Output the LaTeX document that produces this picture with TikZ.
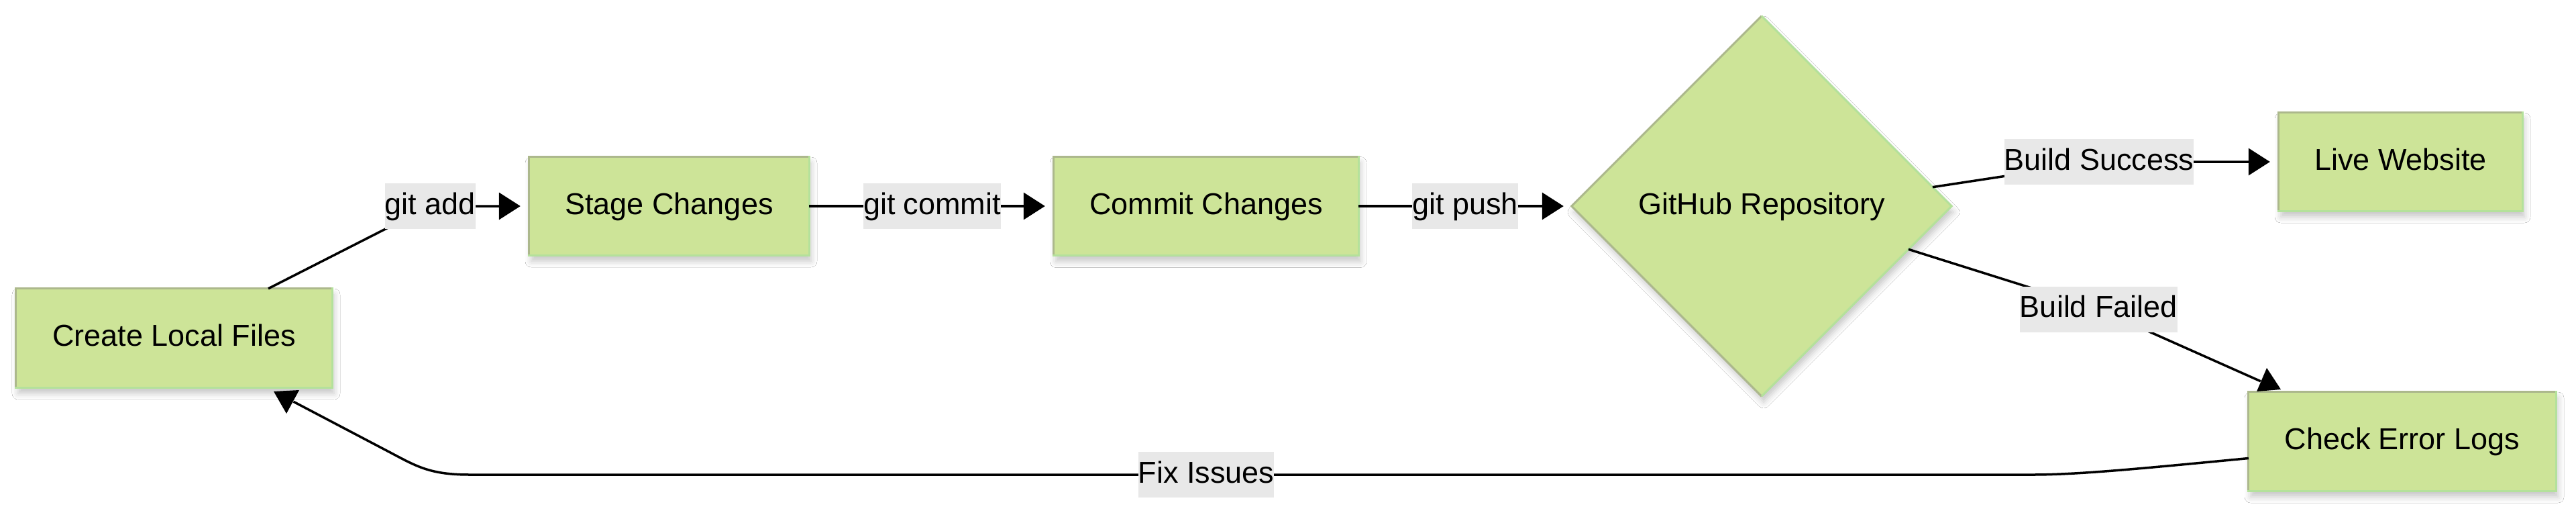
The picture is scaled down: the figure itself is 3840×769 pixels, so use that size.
\documentclass[tikz,border=0pt]{standalone}
\usepackage{fontspec}
\setmainfont{Liberation Sans}
\usetikzlibrary{shapes.geometric,shadows.blur,calc,arrows.meta}
\definecolor{nodefill}{HTML}{CDE498}
\definecolor{edgegray}{HTML}{ACB88C}
\definecolor{edgegreen}{HTML}{B4E19B}
\definecolor{labelbg}{HTML}{E8E8E8}
\newcommand\bordbox[1]{%
  \draw[edgegray, line width=3pt, line cap=rect] (#1.south west) -- (#1.north west) -- (#1.north east);
  \draw[edgegreen, line width=3pt, line cap=rect] (#1.north east) -- (#1.south east) -- (#1.south west);}
\newcommand\borddiam[1]{%
  \draw[edgegray, line width=3pt] (#1.south) -- (#1.west) -- (#1.north);
  \draw[edgegreen, line width=3pt] (#1.north) -- (#1.east) -- (#1.south);}
\begin{document}
\begin{tikzpicture}[x=1pt,y=-1pt,
  font=\fontsize{45}{54}\selectfont,
  box/.style={rectangle, fill=nodefill, minimum height=147pt, inner sep=0pt,
    text height=34pt, text depth=10pt,
    blur shadow={shadow xshift=3pt, shadow yshift=-9pt, shadow blur radius=9pt, shadow opacity=22}},
  diam/.style={diamond, aspect=1, fill=nodefill, minimum width=566pt, minimum height=566pt,
    inner sep=0pt, text height=34pt, text depth=10pt,
    blur shadow={shadow xshift=3pt, shadow yshift=-9pt, shadow blur radius=9pt, shadow opacity=22}},
  lbl/.style={fill=labelbg, inner xsep=0pt, inner ysep=0pt, minimum height=68pt,
    text height=34pt, text depth=10pt},
  edge/.style={draw=black, line width=3.5pt},
  arr/.style={-{Triangle[length=32pt,width=40pt]}}
]
\fill[white] (0,0) rectangle (3840,769);
\useasboundingbox (0,0) rectangle (3840,769);

% nodes
\node[box, minimum width=471pt, minimum height=147pt] (cl) at (259.5,503.5) {Create Local Files};
\node[box, minimum width=417pt, minimum height=146pt] (sc) at (997.5,307) {Stage Changes};
\node[box, minimum width=454pt, minimum height=147pt] (cc) at (1798,307) {Commit Changes};
\node[diam] (gh) at (2626,307) {GitHub Repository};
\node[box, minimum width=363pt, minimum height=146pt] (lw) at (3578.5,241) {Live Website};
\node[box, minimum width=458pt, minimum height=147pt] (ce) at (3581,657.5) {Check Error Logs};
\bordbox{cl}
\bordbox{sc}
\bordbox{cc}
\borddiam{gh}
\bordbox{lw}
\bordbox{ce}

% label positions
\coordinate (Lga) at (641.5,307);
\coordinate (Lgc) at (1389.5,307);
\coordinate (Lgp) at (2184,307);
\coordinate (Lbs) at (3129,241);
\coordinate (Lbf) at (3128.5,460.5);
\coordinate (Lfi) at (1798,707);

% edges
\draw[edge,arr,shorten >=13pt] ($(cl.north)+(140.5,0)$) -- (Lga) -- (sc.west);
\draw[edge,arr,shorten >=13pt] (sc.east) -- (Lgc) -- (cc.west);
\draw[edge,arr,shorten >=12pt] (cc.east) -- (Lgp) -- (gh.west);
\draw[edge,arr,shorten >=13pt] ($(gh.east)!0.1!(gh.north)$) -- (Lbs) -- (lw.west);
\draw[edge] ($(gh.east)!0.227!(gh.south)$) -- (Lbf) -- ($(ce.north west)+(18,-16)$);
\fill[black] (3379,548) -- (3364,583) -- (3400,580) -- cycle;
\draw[edge] ($(ce.west)+(0,25)$) .. controls (3200,697) and (3100,707) .. (3030,707)
  -- (Lfi) -- (700,707) .. controls (640,707) and (620,694) .. (580,673)
  -- ($(cl.south)+(178,21)$);
\fill[black] (408,583) -- (446,581) -- (427,616) -- cycle;

% labels
\node[lbl] (lga) at (Lga) {git add};
\node[lbl] (lgc) at (Lgc) {git commit};
\node[lbl] (lgp) at (Lgp) {git push};
\node[lbl] (lbs) at (Lbs) {Build Success};
\node[lbl] (lbf) at (Lbf) {Build Failed};
\node[lbl] (lfi) at (Lfi) {Fix Issues};
\end{tikzpicture}
\end{document}
